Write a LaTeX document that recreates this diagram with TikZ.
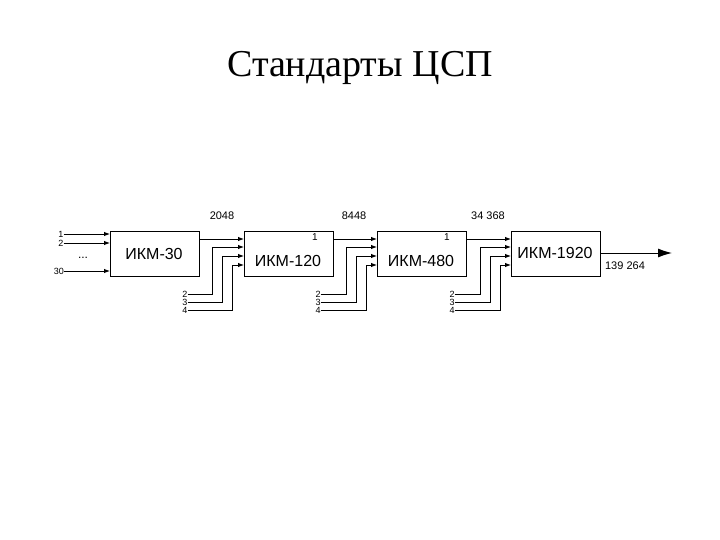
\documentclass[tikz,border=0pt]{standalone}
\usepackage{fontspec}
\setmainfont{Liberation Sans}
\newfontfamily\titlefont{Liberation Serif}
\usetikzlibrary{arrows.meta}
\begin{document}
\begin{tikzpicture}[x=1pt,y=-1pt,
  blk/.style={draw,line width=0.8pt,minimum width=89pt,minimum height=45pt,anchor=north west,inner sep=0pt},
  wire/.style={line width=0.9pt,-{Latex[length=6pt,width=4.5pt]}},
  sm/.style={font=\fontsize{9}{9}\selectfont,inner sep=0pt},
  md/.style={font=\fontsize{11}{11}\selectfont,inner sep=0pt}]
\useasboundingbox (0,0) rectangle (720,540);
\node[font=\titlefont\fontsize{38}{40}\selectfont] (title) at (360,68) {Стандарты ЦСП};
\node[blk] (b1) at (110,231) {};
\node[font=\fontsize{16}{16}\selectfont] (t1) at (154,254) {ИКМ-30};
\node[blk] (b2) at (244,231) {};
\node[font=\fontsize{16}{16}\selectfont] (t2) at (288,261) {ИКМ-120};
\node[blk] (b3) at (377,231) {};
\node[font=\fontsize{16}{16}\selectfont] (t3) at (421,261) {ИКМ-480};
\node[blk] (b4) at (511,231) {};
\node[font=\fontsize{16}{16}\selectfont] (t4) at (555,253) {ИКМ-1920};
% inputs to b1
\node[sm] (i1) at (61,234) {1};
\node[sm] (i2) at (61,243) {2};
\node[sm] (i30) at (59,271) {30};
\node[font=\fontsize{12}{12}\selectfont] (dots) at (83,258) {...};
\coordinate (e1) at (110,234); \coordinate (e2) at (110,243); \coordinate (e30) at (110,271);
\draw[wire] (i1.east) -- (e1);
\draw[wire] (i2.east) -- (e2);
\draw[wire] (i30.east) -- (e30);
% stages
\foreach \src/\dst/\vx/\lx/\lab in {b1/b2/212/185/b2, b2/b3/346/318/b3, b3/b4/480/452/b4}{
  \draw[wire] (\src.east |- 0,239) -- (\dst.west |- 0,239);
  \node[sm] (n2\lab) at (\lx,294) {2};
  \node[sm] (n3\lab) at (\lx,302) {3};
  \node[sm] (n4\lab) at (\lx,310) {4};
  \draw[wire] (n2\lab.east) -- (\vx,294) -- (\vx,247) -- (\dst.west |- 0,247);
  \draw[wire] (n3\lab.east) -- (\vx+10,302) -- (\vx+10,256) -- (\dst.west |- 0,256);
  \draw[wire] (n4\lab.east) -- (\vx+20,310) -- (\vx+20,265) -- (\dst.west |- 0,265);
}
\node[md] (r1) at (222,216) {2048};
\node[md] (r2) at (354,216) {8448};
\node[md] (r3) at (488,216) {34 368};
\node[md] (r4) at (625,266) {139 264};
\node[sm,font=\fontsize{10}{10}\selectfont] (one2) at (315,237) {1};
\node[sm,font=\fontsize{10}{10}\selectfont] (one3) at (447,237) {1};
\coordinate (out) at (672,253);
\draw[line width=0.9pt,-{Latex[length=14pt,width=9pt]}] (b4.east |- 0,253) -- (out);
\end{tikzpicture}
\end{document}
